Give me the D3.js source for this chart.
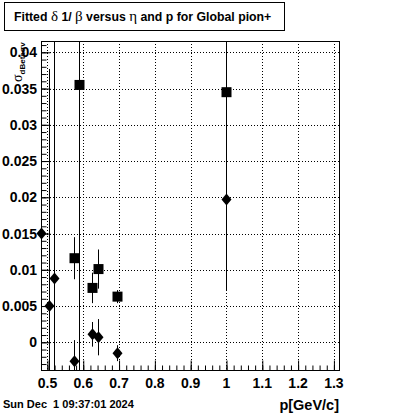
<html>
<head>
<script type="text/javascript" src="https://cdn.jsdelivr.net/npm/d3@7"></script>
<style>
  body { margin: 0; background: #fff; }
  text { font-family: 'Liberation Sans', Arial, sans-serif; font-weight: bold; }
</style>
</head>
<body>
<svg id="chart" width="400" height="414"></svg>
<script type="text/javascript">
// diamonds
var diamondP   = [0.482, 0.505, 0.519, 0.575, 0.624, 0.640, 0.695, 1.0];
var diamondVal = [0.0150, 0.0050, 0.0088, -0.0026, 0.0011, 0.0007, -0.0015, 0.0197];
var diamondErr = [0.0003, 0.0327, 0.0600, 0.0029, 0.0017, 0.0025, 0.0011, 0.0125];
// squares
var squareP   = [0.575, 0.589, 0.625, 0.640, 0.695, 1.0];
var squareVal = [0.0116, 0.0355, 0.0075, 0.0101, 0.0063, 0.0345];
var squareErr = [0.0029, 0.0600, 0.0021, 0.0027, 0.0009, 0.0090];

var xTicks = [0.5, 0.6, 0.7, 0.8, 0.9, 1.0, 1.1, 1.2, 1.3];
var yTicks = [0, 0.005, 0.01, 0.015, 0.02, 0.025, 0.03, 0.035, 0.04];

function drawChart() {
    var svg = d3.select("#chart");
    var pLeft = 41, pRight = 340, pTop = 41, pBottom = 371;

    var x = d3.scaleLinear().domain([0.482, 1.317]).range([pLeft, pRight]);
    var y = d3.scaleLinear().domain([-0.00396, 0.04156]).range([pBottom, pTop]);

    svg.append("rect").attr("x", 0).attr("y", 0).attr("width", 400).attr("height", 414).attr("fill", "#fff");

    svg.append("defs").append("clipPath").attr("id", "plotclip")
        .append("rect").attr("x", pLeft).attr("y", pTop)
        .attr("width", pRight - pLeft).attr("height", pBottom - pTop);

    // dotted grid at major ticks
    var grid = svg.append("g").attr("stroke", "#000").attr("stroke-width", 1)
        .attr("stroke-dasharray", "1,2");
    grid.selectAll("line.vx").data(xTicks).enter().append("line")
        .attr("x1", function(d) { return Math.round(x(d)) + 0.5; })
        .attr("x2", function(d) { return Math.round(x(d)) + 0.5; })
        .attr("y1", pTop).attr("y2", pBottom);
    grid.selectAll("line.hy").data(yTicks).enter().append("line")
        .attr("y1", function(d) { return Math.round(y(d)) + 0.5; })
        .attr("y2", function(d) { return Math.round(y(d)) + 0.5; })
        .attr("x1", pLeft).attr("x2", pRight);

    // axes, ticks pointing inward
    function noDomain(g) { g.select(".domain").remove(); }
    svg.append("g").attr("transform", "translate(0," + (pBottom - 0.5) + ")")
        .call(d3.axisTop(x).tickValues(d3.range(0.5, 1.3001, 0.02)).tickSize(5).tickFormat(""))
        .call(noDomain);
    svg.append("g").attr("transform", "translate(0," + (pBottom - 0.5) + ")")
        .call(d3.axisTop(x).tickValues(xTicks).tickSize(10).tickFormat(""))
        .call(noDomain);
    svg.append("g").attr("transform", "translate(" + (pLeft + 0.5) + ",0)")
        .call(d3.axisRight(y).tickValues(d3.range(-0.003, 0.0411, 0.001)).tickSize(5).tickFormat(""))
        .call(noDomain);
    svg.append("g").attr("transform", "translate(" + (pLeft + 0.5) + ",0)")
        .call(d3.axisRight(y).tickValues(yTicks).tickSize(9).tickFormat(""))
        .call(noDomain);
    svg.selectAll(".tick line").attr("stroke", "#000");

    // tick labels
    svg.append("g").selectAll("text").data(xTicks).enter().append("text")
        .attr("x", function(d) { return x(d); }).attr("y", 388)
        .attr("text-anchor", "middle").attr("font-size", 14)
        .text(function(d) { return d3.format("")(d); });
    svg.append("g").selectAll("text").data(yTicks).enter().append("text")
        .attr("x", 37).attr("y", function(d) { return y(d) + 5; })
        .attr("text-anchor", "end").attr("font-size", 14)
        .text(function(d) { return d3.format("")(d); });

    // frame
    svg.append("rect").attr("x", pLeft + 0.5).attr("y", pTop + 0.5)
        .attr("width", pRight - pLeft - 1).attr("height", pBottom - pTop - 1)
        .attr("fill", "none").attr("stroke", "#000").attr("stroke-width", 1);

    // data
    var plot = svg.append("g").attr("clip-path", "url(#plotclip)");
    var diamonds = diamondP.map(function(p, i) { return {p: p, v: diamondVal[i], e: diamondErr[i]}; });
    var squares = squareP.map(function(p, i) { return {p: p, v: squareVal[i], e: squareErr[i]}; });

    function errBars(data) {
        plot.append("g").selectAll("line").data(data).enter().append("line")
            .attr("x1", function(d) { return Math.round(x(d.p)) + 0.5; })
            .attr("x2", function(d) { return Math.round(x(d.p)) + 0.5; })
            .attr("y1", function(d) { return y(d.v + d.e); })
            .attr("y2", function(d) { return y(d.v - d.e); })
            .attr("stroke", "#000").attr("stroke-width", 1);
    }
    errBars(diamonds);
    errBars(squares);

    svg.append("g").selectAll("path").data(diamonds).enter().append("path")
        .attr("d", function(d) {
            var cx = Math.round(x(d.p)) + 0.5, cy = y(d.v);
            return "M" + cx + "," + (cy - 6) + "L" + (cx + 5) + "," + cy +
                   "L" + cx + "," + (cy + 6) + "L" + (cx - 5) + "," + cy + "Z";
        })
        .attr("fill", "#000");

    svg.append("g").selectAll("rect").data(squares).enter().append("rect")
        .attr("x", function(d) { return Math.round(x(d.p)) + 0.5 - 5; })
        .attr("y", function(d) { return y(d.v) - 5; })
        .attr("width", 10).attr("height", 10)
        .attr("fill", "#000");

    // title box
    svg.append("rect").attr("x", 4.5).attr("y", 2.5).attr("width", 280).attr("height", 28)
        .attr("fill", "#fff").attr("stroke", "#000").attr("stroke-width", 1);
    var title = svg.append("text").attr("x", 14).attr("y", 21).attr("font-size", 12.3);
    title.append("tspan").text("Fitted ");
    title.append("tspan").attr("font-family", "'Liberation Serif', serif").attr("font-weight", "normal")
        .attr("font-size", 15).text("δ");
    title.append("tspan").text(" 1/ ");
    title.append("tspan").attr("font-family", "'Liberation Serif', serif").attr("font-weight", "normal")
        .attr("font-size", 15).text("β");
    title.append("tspan").text(" versus ");
    title.append("tspan").attr("font-family", "'Liberation Serif', serif").attr("font-weight", "normal")
        .attr("font-size", 15).text("η");
    title.append("tspan").text("  and p for Global pion+");

    // y axis title, rotated
    var yt = svg.append("text").attr("transform", "translate(22,82) rotate(-90)").attr("font-size", 14);
    yt.append("tspan").attr("font-family", "'Liberation Serif', serif").attr("font-weight", "normal").text("σ");
    yt.append("tspan").attr("font-size", 8).attr("dy", 3).text("dBetaσv");

    // x axis title
    svg.append("text").attr("x", 339).attr("y", 410).attr("text-anchor", "end")
        .attr("font-size", 14.5).text("p[GeV/c]");

    // date stamp
    svg.append("text").attr("x", 3).attr("y", 408).attr("font-size", 11)
        .style("white-space", "pre").text("Sun Dec  1 09:37:01 2024");
}

drawChart();
</script>
</body>
</html>
